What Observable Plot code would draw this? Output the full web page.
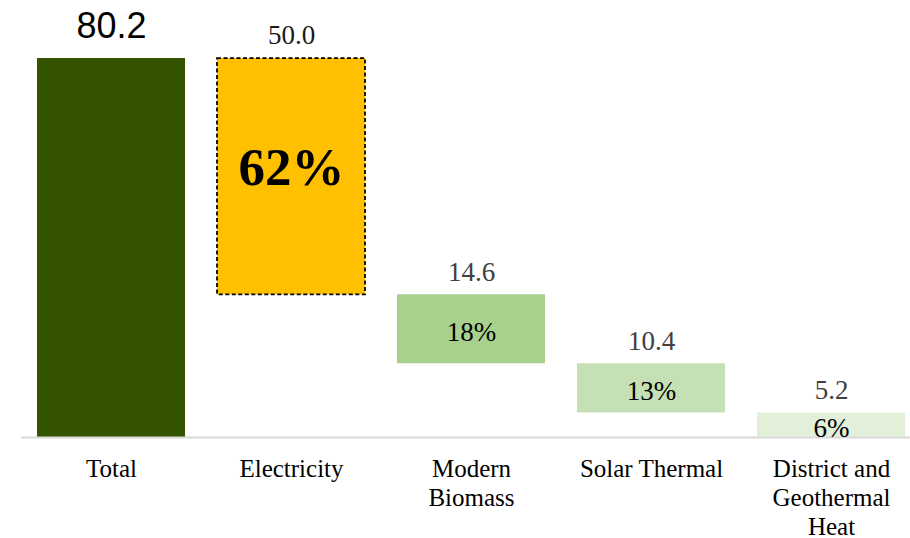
<!DOCTYPE html>
<html>
<head>
<meta charset="utf-8">
<script src="https://cdn.jsdelivr.net/npm/d3@7"></script>
<script src="https://cdn.jsdelivr.net/npm/@observablehq/plot@0.6"></script>
<style>
  html, body { margin: 0; padding: 0; background: #fff; }
  #chart svg { display: block; }
</style>
</head>
<body>
<div id="chart"></div>
<script>
// Waterfall: total final energy split into its components
const categories = ["Total", "Electricity", "Modern Biomass", "Solar Thermal", "District and Geothermal Heat"];
const tickLabels = ["Total", "Electricity", "Modern\nBiomass", "Solar Thermal", "District and\nGeothermal\nHeat"];
const values = [80.2, 50.0, 14.6, 10.4, 5.2];
const colors = ["#355400", "#FFC000", "#A9D18E", "#C5E0B4", "#E2F0D9"];

// Build floating segments: the total stands on zero, each component hangs
// below the remainder left by the components before it.
const total = values[0];
let remaining = total;
const rows = categories.map((c, i) => {
  if (i === 0) return {cat: c, y1: 0, y2: total, value: values[i], color: colors[i], label: tickLabels[i]};
  const top = remaining;
  remaining = +(remaining - values[i]).toFixed(6);
  return {
    cat: c, y1: remaining, y2: top, value: values[i], color: colors[i], label: tickLabels[i],
    share: Math.round(values[i] / total * 100) + "%"
  };
});
const parts = rows.slice(1);
const serif = "Liberation Serif, Times New Roman, serif";

const chart = Plot.plot({
  width: 910,
  height: 538,
  marginTop: 58,
  marginBottom: 101,
  marginLeft: 21,
  marginRight: 0,
  x: {domain: categories, range: [21, 921], paddingInner: 0.1778, paddingOuter: 0.0889, axis: null},
  y: {domain: [0, total], axis: null},
  marks: [
    Plot.barY(rows, {x: "cat", y1: "y1", y2: "y2", fill: "color"}),
    // dashed outline on the electricity block
    Plot.barY(rows.filter(d => d.cat === "Electricity"), {
      x: "cat", y1: "y1", y2: "y2", fill: "none", stroke: "#000",
      strokeWidth: 1.75, strokeDasharray: "4,2.5"
    }),
    Plot.ruleY([0], {stroke: "#d9d9d9", strokeWidth: 2}),
    // value labels above each block
    Plot.text(rows.slice(0, 1), {
      x: "cat", y: "y2", text: d => d.value.toFixed(1), lineAnchor: "bottom", dy: -21,
      fontSize: 36, fontFamily: "Liberation Sans, Arial, sans-serif", fill: "#000"
    }),
    Plot.text(parts.slice(0, 1), {
      x: "cat", y: "y2", text: d => d.value.toFixed(1), lineAnchor: "bottom", dy: -15,
      fontSize: 27, fontFamily: serif, fill: "#1a1a1a"
    }),
    Plot.text(parts.slice(1), {
      x: "cat", y: "y2", text: d => d.value.toFixed(1), lineAnchor: "bottom", dy: -14,
      fontSize: 27, fontFamily: serif, fill: "#404040"
    }),
    // share of total inside each block
    Plot.text(parts.slice(0, 1), {
      x: "cat", y: d => (d.y1 + d.y2) / 2, text: "share", lineAnchor: "middle", dy: -9,
      fontSize: 53, fontWeight: "bold", fontFamily: serif, fill: "#000"
    }),
    Plot.text(parts.slice(1), {
      x: "cat", y: d => (d.y1 + d.y2) / 2, text: "share", lineAnchor: "middle", dy: 3,
      fontSize: 27, fontFamily: serif, fill: "#000"
    }),
    // category labels under the baseline
    Plot.text(rows, {
      x: "cat", y: 0, text: "label", lineAnchor: "top", dy: 19, lineHeight: 1.16,
      fontSize: 25, fontFamily: serif, fill: "#000"
    })
  ]
});

document.getElementById("chart").appendChild(chart);
</script>
</body>
</html>
